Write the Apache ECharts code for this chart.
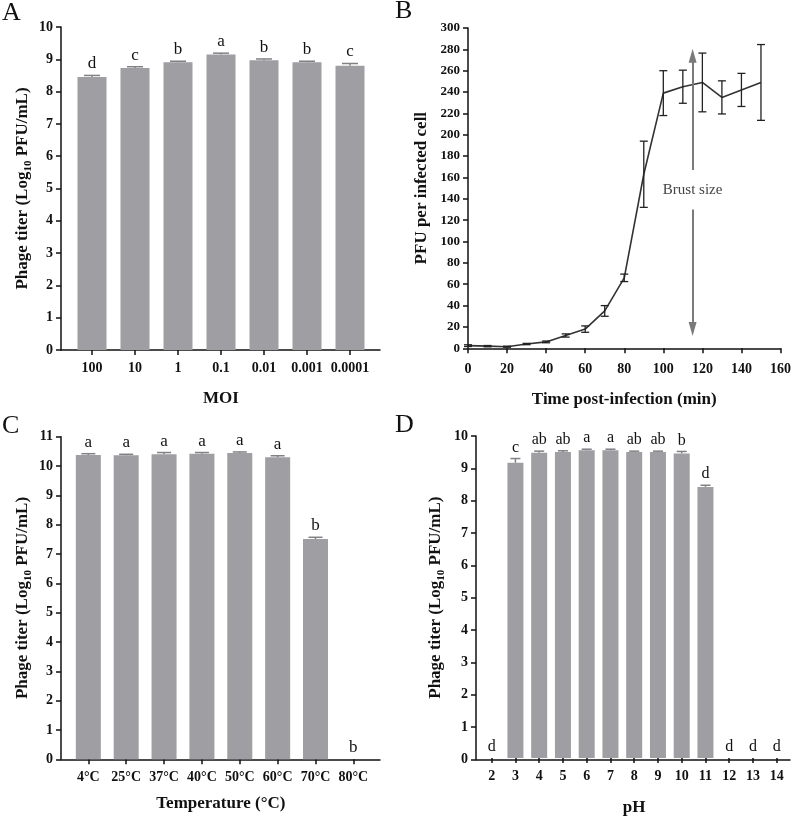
<!DOCTYPE html>
<html>
<head>
<meta charset="utf-8">
<script src="https://cdn.jsdelivr.net/npm/echarts@6/dist/echarts.min.js"></script>
<style>
html, body { margin: 0; padding: 0; background: #fff; }
#chart { width: 794px; height: 817px; }
</style>
</head>
<body>
<div id="chart"></div>
<script>
// A: MOI
var moiLabels = ['100', '10', '1', '0.1', '0.01', '0.001', '0.0001'];
var moiTiter = [8.45, 8.73, 8.91, 9.15, 8.97, 8.91, 8.80];
var moiErr = [0.05, 0.04, 0.03, 0.04, 0.04, 0.03, 0.07];
var moiLetters = ['d', 'c', 'b', 'a', 'b', 'b', 'c'];

// B: one-step growth
var timeMin = [0, 10, 20, 30, 40, 50, 60, 70, 80, 90, 100, 110, 120, 130, 140, 150];
var pfuCell = [2.5, 2, 1.5, 4, 6, 12, 18, 35, 66, 163, 239, 245, 249, 235, 242, 249];
var pfuErr = [0.8, 0.6, 0.5, 0.6, 0.8, 1.5, 3, 5, 3.5, 31, 21, 15.5, 27.5, 15.5, 15.5, 35.5];
var burstTime = 115;
var burstTop = 274, burstUpperStart = 167;
var burstBottom = 18, burstLowerStart = 130;
var burstTextAt = 148;

// C: temperature
var tempLabels = ['4°C', '25°C', '37°C', '40°C', '50°C', '60°C', '70°C', '80°C'];
var tempTiter = [10.38, 10.37, 10.40, 10.42, 10.44, 10.30, 7.51, 0];
var tempErr = [0.04, 0.03, 0.06, 0.04, 0.04, 0.05, 0.06, 0];
var tempLetters = ['a', 'a', 'a', 'a', 'a', 'a', 'b', 'b'];

// D: pH
var phLabels = ['2', '3', '4', '5', '6', '7', '8', '9', '10', '11', '12', '13', '14'];
var phTiter = [0, 9.17, 9.48, 9.50, 9.56, 9.56, 9.50, 9.50, 9.46, 8.42, 0, 0, 0];
var phErr = [0, 0.13, 0.05, 0.04, 0.03, 0.03, 0.03, 0.03, 0.06, 0.05, 0, 0, 0];
var phLetters = ['d', 'c', 'ab', 'ab', 'a', 'a', 'ab', 'ab', 'b', 'd', 'd', 'd', 'd'];

var FONT = '"Liberation Serif", "Times New Roman", serif';
var INK = '#111';
var BAR = '#9e9ea3';
var ERR = '#808085';

var chart = echarts.init(document.getElementById('chart'));

function zip(a, b, c) {
    return a.map(function (v, i) { return c ? [i, v, c[i]] : [v, b[i]]; });
}

var line = { show: true, onZero: true, lineStyle: { color: INK, width: 1.5 } };
var tick = { show: true, length: 5, lineStyle: { color: INK, width: 1.5 } };
function label(size, margin) {
    return { fontFamily: FONT, fontWeight: 'bold', fontSize: size, color: INK, margin: margin };
}
var nameStyle = { fontFamily: FONT, fontWeight: 'bold', fontSize: 17, color: INK };
var titerName = '{n|Phage titer (Log}{s|10}{n| PFU/mL)}';
var titerStyle = {
    fontFamily: FONT, fontWeight: 'bold', fontSize: 17, color: INK,
    rich: {
        n: { fontFamily: FONT, fontWeight: 'bold', fontSize: 17, color: INK, lineHeight: 17, verticalAlign: 'top' },
        s: { fontFamily: FONT, fontWeight: 'bold', fontSize: 11, color: INK, lineHeight: 11, verticalAlign: 'top', padding: [9, 0, 0, 0] }
    }
};

// plain line-only x axis spanning the outer grid
function baseAxis(grid) {
    return { type: 'value', gridIndex: grid, min: 0, max: 1, axisLine: line,
        axisTick: { show: false }, axisLabel: { show: false }, splitLine: { show: false } };
}
function catAxis(grid, data, name, gap) {
    var lab = label(14, 11);
    lab.interval = 0;
    return { type: 'category', gridIndex: grid, data: data, axisLine: { show: false },
        axisTick: { show: true, interval: 0, alignWithLabel: true, length: 5, lineStyle: { color: INK, width: 1.5 } },
        axisLabel: lab, name: name, nameLocation: 'middle', nameGap: gap, nameTextStyle: nameStyle };
}
function valAxis(grid, max, name, gap) {
    return { type: 'value', gridIndex: grid, min: 0, max: max, interval: 1, axisLine: line, axisTick: tick,
        axisLabel: label(14, 8), splitLine: { show: false },
        name: name, nameLocation: 'middle', nameGap: gap, nameTextStyle: titerStyle };
}
function hiddenAxis(grid, max) {
    return { type: 'value', gridIndex: grid, min: 0, max: max, show: false, splitLine: { show: false } };
}

function errorItem(letters, capW, fontSize) {
    return function (params, api) {
        var i = api.value(0), v = api.value(1), e = api.value(2);
        var base = api.coord([i, v]);
        var top = api.coord([i, v + e]);
        var children = [];
        if (e > 0) {
            children.push({ type: 'line', shape: { x1: base[0], y1: base[1], x2: top[0], y2: top[1] },
                style: { stroke: ERR, lineWidth: 1.5 } });
            children.push({ type: 'line', shape: { x1: top[0] - capW / 2, y1: top[1], x2: top[0] + capW / 2, y2: top[1] },
                style: { stroke: ERR, lineWidth: 1.5 } });
        }
        children.push({ type: 'text', x: top[0], y: top[1] - 3,
            style: { text: letters[params.dataIndex], fontFamily: FONT, fontSize: fontSize, fill: INK,
                align: 'center', verticalAlign: 'bottom' } });
        return { type: 'group', children: children };
    };
}

function growthErrItem(params, api) {
    var t = api.value(0), v = api.value(1), e = api.value(2);
    var hi = api.coord([t, v + e]);
    var lo = api.coord([t, v - e]);
    var s = { stroke: '#222', lineWidth: 1.3 };
    return { type: 'group', children: [
        { type: 'line', shape: { x1: hi[0], y1: hi[1], x2: lo[0], y2: lo[1] }, style: s },
        { type: 'line', shape: { x1: hi[0] - 4, y1: hi[1], x2: hi[0] + 4, y2: hi[1] }, style: s },
        { type: 'line', shape: { x1: lo[0] - 4, y1: lo[1], x2: lo[0] + 4, y2: lo[1] }, style: s }
    ] };
}

var option = {
    animation: false,
    textStyle: { fontFamily: FONT },
    graphic: [
        { type: 'text', left: 2, top: 0, style: { text: 'A', font: '26px ' + FONT, fill: INK } },
        { type: 'text', left: 395, top: -2, style: { text: 'B', font: '26px ' + FONT, fill: INK } },
        { type: 'text', left: 2, top: 413, style: { text: 'C', font: '26px ' + FONT, fill: INK } },
        { type: 'text', left: 395, top: 412, style: { text: 'D', font: '26px ' + FONT, fill: INK } }
    ],
    grid: [
        { left: 61, top: 27, width: 319, height: 323 },
        { left: 70.5, top: 27, width: 301, height: 323 },
        { left: 468, top: 28, width: 314, height: 320.3 },
        { left: 61, top: 436.7, width: 319, height: 322.6 },
        { left: 69.4, top: 436.7, width: 302.9, height: 322.6 },
        { left: 476, top: 436, width: 314, height: 323.3 },
        { left: 479.8, top: 436, width: 308.8, height: 323.3 }
    ],
    xAxis: [
        baseAxis(0),
        catAxis(1, moiLabels, 'MOI', 40),
        { type: 'value', gridIndex: 2, min: 0, max: 160, interval: 20, axisLine: line, axisTick: tick,
            axisLabel: label(14, 14), splitLine: { show: false },
            name: 'Time post-infection (min)', nameLocation: 'middle', nameGap: 43, nameTextStyle: nameStyle },
        baseAxis(3),
        catAxis(4, tempLabels, 'Temperature (°C)', 36),
        baseAxis(5),
        catAxis(6, phLabels, 'pH', 41)
    ],
    yAxis: [
        valAxis(0, 10, titerName, 30),
        hiddenAxis(1, 10),
        { type: 'value', gridIndex: 2, min: 0, max: 300, interval: 20, axisLine: line, axisTick: tick,
            axisLabel: label(13, 8), splitLine: { show: false },
            name: 'PFU per infected cell', nameLocation: 'middle', nameGap: 38, nameTextStyle: nameStyle },
        valAxis(3, 11, titerName, 30),
        hiddenAxis(4, 11),
        valAxis(5, 10, titerName, 32),
        hiddenAxis(6, 10)
    ],
    series: [
        { type: 'bar', xAxisIndex: 1, yAxisIndex: 1, data: moiTiter, barWidth: 29,
            itemStyle: { color: BAR }, silent: true },
        { type: 'custom', xAxisIndex: 1, yAxisIndex: 1, data: zip(moiTiter, null, moiErr),
            encode: { x: 0, y: 1 }, renderItem: errorItem(moiLetters, 16, 17), z: 5, silent: true },

        { type: 'line', xAxisIndex: 2, yAxisIndex: 2, data: zip(timeMin, pfuCell), showSymbol: false,
            lineStyle: { color: '#333', width: 1.6 }, silent: true,
            markLine: {
                silent: true, symbol: ['none', 'triangle'], symbolSize: [8, 14],
                label: { show: false }, lineStyle: { color: '#7a7a7a', width: 2, type: 'solid' },
                data: [
                    [{ coord: [burstTime, burstUpperStart] }, { coord: [burstTime, burstTop] }],
                    [{ coord: [burstTime, burstLowerStart] }, { coord: [burstTime, burstBottom] }]
                ]
            },
            markPoint: {
                silent: true, symbol: 'rect', symbolSize: 1, itemStyle: { color: 'rgba(0,0,0,0)' },
                label: { show: true, position: 'inside', formatter: 'Brust size',
                    fontFamily: FONT, fontSize: 15, color: '#444' },
                data: [{ coord: [burstTime, burstTextAt] }]
            }
        },
        { type: 'custom', xAxisIndex: 2, yAxisIndex: 2,
            data: timeMin.map(function (t, i) { return [t, pfuCell[i], pfuErr[i]]; }),
            encode: { x: 0, y: 1 }, renderItem: growthErrItem, z: 5, silent: true },

        { type: 'bar', xAxisIndex: 4, yAxisIndex: 4, data: tempTiter, barWidth: 25,
            itemStyle: { color: BAR }, silent: true },
        { type: 'custom', xAxisIndex: 4, yAxisIndex: 4, data: zip(tempTiter, null, tempErr),
            encode: { x: 0, y: 1 }, renderItem: errorItem(tempLetters, 14, 17), z: 5, silent: true },

        { type: 'bar', xAxisIndex: 6, yAxisIndex: 6, data: phTiter, barWidth: 16,
            itemStyle: { color: BAR }, silent: true },
        { type: 'custom', xAxisIndex: 6, yAxisIndex: 6, data: zip(phTiter, null, phErr),
            encode: { x: 0, y: 1 }, renderItem: errorItem(phLetters, 10, 16), z: 5, silent: true }
    ]
};

chart.setOption(option);
</script>
</body>
</html>
